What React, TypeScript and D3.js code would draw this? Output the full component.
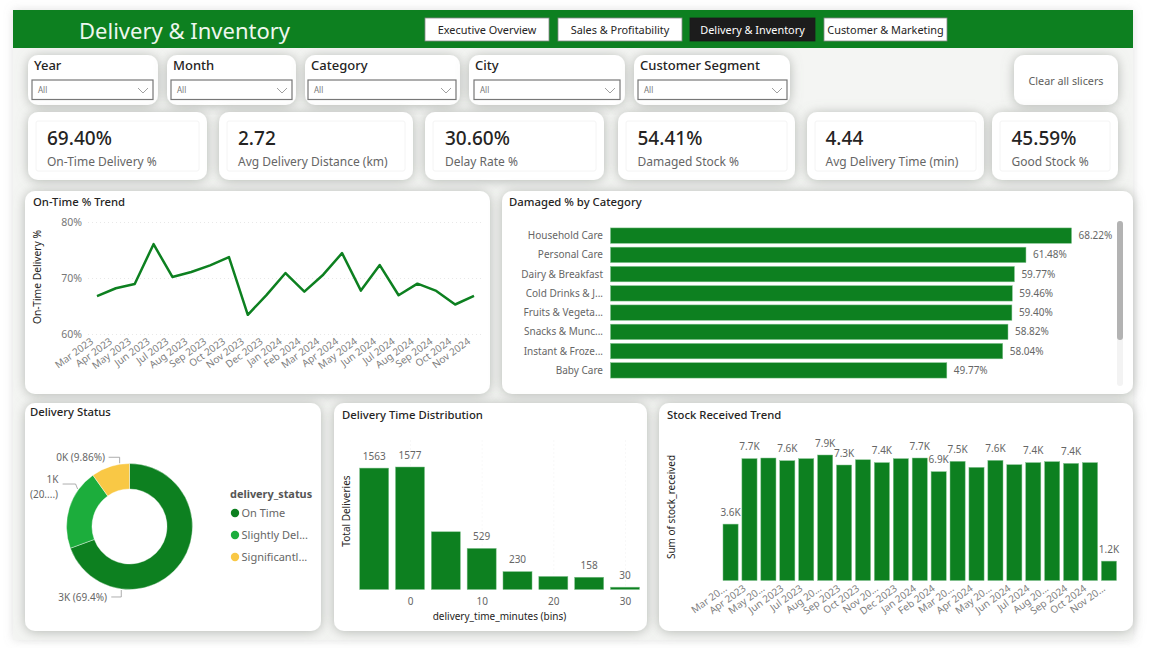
import React, { useEffect, useRef } from "react";
import * as d3 from "d3";

const months = ["Mar 2023", "Apr 2023", "May 2023", "Jun 2023", "Jul 2023", "Aug 2023", "Sep 2023", "Oct 2023", "Nov 2023", "Dec 2023", "Jan 2024", "Feb 2024", "Mar 2024", "Apr 2024", "May 2024", "Jun 2024", "Jul 2024", "Aug 2024", "Sep 2024", "Oct 2024", "Nov 2024"];
const onTimePct = [66.75, 68.17, 68.93, 76.04, 70.18, 71.07, 72.25, 73.73, 63.43, 66.98, 70.89, 67.57, 70.59, 74.44, 67.75, 72.31, 66.92, 68.99, 67.69, 65.27, 66.8];

const damagedCats = ["Household Care", "Personal Care", "Dairy & Breakfast", "Cold Drinks & J...", "Fruits & Vegeta...", "Snacks & Munc...", "Instant & Froze...", "Baby Care"];
const damagedPct = [68.22, 61.48, 59.77, 59.46, 59.4, 58.82, 58.04, 49.77];

const statusNames = ["On Time", "Slightly Del...", "Significantl..."];
const statusPct = [69.4, 20.74, 9.86];
const statusColors = ["#0d8020", "#1cad3c", "#f9c845"];

const binStarts = [-5, 0, 5, 10, 15, 20, 25, 30];
const binCounts = [1563, 1577, 743, 529, 230, 168, 158, 30];
const binLabels = ["1563", "1577", "", "529", "230", "", "158", "30"];

const stockMonths = ["Mar 20...", "Apr 2023", "May 20...", "Jun 2023", "Jul 2023", "Aug 20...", "Sep 2023", "Oct 2023", "Nov 20...", "Dec 2023", "Jan 2024", "Feb 2024", "Mar 20...", "Apr 2024", "May 20...", "Jun 2024", "Jul 2024", "Aug 20...", "Sep 2024", "Oct 2024", "Nov 20..."];
const stockValues = [3.55, 7.67, 7.71, 7.54, 7.67, 7.9, 7.27, 7.6, 7.42, 7.67, 7.71, 6.85, 7.5, 7.12, 7.56, 7.29, 7.42, 7.48, 7.37, 7.42, 1.22];
const stockLabels = ["3.6K", "7.7K", "", "7.6K", "", "7.9K", "7.3K", "", "7.4K", "", "7.7K", "6.9K", "7.5K", "", "7.6K", "", "7.4K", "", "7.4K", "", "1.2K"];

const navButtons = ["Executive Overview", "Sales & Profitability", "Delivery & Inventory", "Customer & Marketing"];
const slicerNames = ["Year", "Month", "Category", "City", "Customer Segment"];
const kpiValues = ["69.40%", "2.72", "30.60%", "54.41%", "4.44", "45.59%"];
const kpiNames = ["On-Time Delivery %", "Avg Delivery Distance (km)", "Delay Rate %", "Damaged Stock %", "Avg Delivery Time (min)", "Good Stock %"];

// layout boxes [x0, x1]
const navX = [[425, 549], [558, 682], [690, 815], [824, 947]];
const slicerX = [[28, 158], [167, 296], [305, 460], [469, 625], [634, 790]];
const dropX = [[32, 153], [171, 292], [308, 456], [474, 620], [638, 787]];
const kpiX = [[28, 207], [219, 413], [425, 604], [618, 795], [807, 984], [992, 1118]];
const kpiTextX = [47, 238, 445, 637.5, 825.5, 1011.5];

const FONT = "'Noto Sans', sans-serif";
const GREEN = "#0d8020";
const DARK = "#252423";
const GREY = "#666";

type Sel = d3.Selection<SVGGElement, unknown, null, undefined>;

const App = () => {
    const ref = useRef<SVGSVGElement | null>(null);

    useEffect(() => {
        const svg = d3.select(ref.current!);
        svg.selectAll("*").remove();
        document.body.style.margin = "0";

        const defs = svg.append("defs");
        const shadow = defs.append("filter").attr("id", "cardShadow").attr("x", "-15%").attr("y", "-20%").attr("width", "130%").attr("height", "140%");
        shadow.append("feDropShadow").attr("dx", 0).attr("dy", 1).attr("stdDeviation", 6).attr("flood-color", "#80857e").attr("flood-opacity", 0.55);
        const pageShadow = defs.append("filter").attr("id", "pageShadow").attr("x", "-3%").attr("y", "-3%").attr("width", "106%").attr("height", "106%");
        pageShadow.append("feDropShadow").attr("dx", 0).attr("dy", 0).attr("stdDeviation", 5).attr("flood-color", "#999").attr("flood-opacity", 0.3);

        const root: any = svg.append("g").attr("font-family", FONT);

        const text = (g: any, x: number, y: number, s: string, size: number, fill: string, anchor = "start", weight = 400) =>
            g.append("text").attr("x", x).attr("y", y).attr("dy", "0.35em").attr("font-size", size).attr("fill", fill)
                .attr("text-anchor", anchor).attr("font-weight", weight).text(s);

        const card = (x0: number, y0: number, x1: number, y1: number, r = 10) =>
            root.append("rect").attr("x", x0).attr("y", y0).attr("width", x1 - x0).attr("height", y1 - y0)
                .attr("rx", r).attr("fill", "#fff").attr("filter", "url(#cardShadow)");

        // page + header
        root.append("rect").attr("width", 1156).attr("height", 648).attr("fill", "#fff");
        root.append("rect").attr("x", 13).attr("y", 10).attr("width", 1120).attr("height", 630).attr("fill", "#f4f5f3").attr("filter", "url(#pageShadow)");
        root.append("rect").attr("x", 13).attr("y", 10).attr("width", 1120).attr("height", 38).attr("fill", GREEN);
        text(root, 79, 31, "Delivery & Inventory", 22, "#eef7ee");

        navButtons.forEach((name, i) => {
            const active = i === 2;
            root.append("rect").attr("x", navX[i][0]).attr("y", 18).attr("width", navX[i][1] - navX[i][0]).attr("height", 23)
                .attr("fill", active ? "#1c1c1c" : "#fff").attr("stroke", active ? "#1c1c1c" : "#888").attr("stroke-width", 0.8);
            text(root, (navX[i][0] + navX[i][1]) / 2, 30.5, name, 10.9, active ? "#fff" : DARK, "middle");
        });

        // slicers
        slicerNames.forEach((name, i) => {
            card(slicerX[i][0], 55, slicerX[i][1], 105);
            text(root, slicerX[i][0] + 6, 65, name, 13, DARK, "start", 500);
            root.append("rect").attr("x", dropX[i][0]).attr("y", 80).attr("width", dropX[i][1] - dropX[i][0]).attr("height", 19.5)
                .attr("fill", "#fff").attr("stroke", "#777").attr("stroke-width", 1.2);
            text(root, dropX[i][0] + 6, 90.5, "All", 8, "#777");
            const cx = dropX[i][1] - 10;
            root.append("path").attr("d", d3.line()([[cx - 5, 88], [cx, 93], [cx + 5, 88]])).attr("fill", "none").attr("stroke", "#888").attr("stroke-width", 0.8);
        });
        card(1014, 55, 1118, 105);
        text(root, 1066, 81, "Clear all slicers", 10.8, "#605e5c", "middle");

        // kpi cards
        kpiValues.forEach((v, i) => {
            const [x0, x1] = kpiX[i];
            card(x0, 112, x1, 180);
            root.append("rect").attr("x", x0 + 8).attr("y", 121).attr("width", x1 - x0 - 16).attr("height", 50).attr("rx", 2)
                .attr("fill", "#fff").attr("stroke", "#f1f1f1").attr("stroke-width", 0.8);
            text(root, kpiTextX[i], 138.5, v, 19, DARK, "start", 500);
            text(root, kpiTextX[i], 162, kpiNames[i], 12, "#666");
        });

        // chart cards
        card(25, 191, 490, 394);
        card(502, 191, 1133, 394);
        card(25, 403, 321, 631);
        card(334, 403, 647, 631);
        card(659, 403, 1133, 631);

        // ---- On-time trend
        text(root, 33, 202, "On-Time % Trend", 11.3, DARK, "start", 500);
        const lineX = d3.scalePoint<number>().domain(d3.range(months.length)).range([97, 474]);
        const lineY = d3.scaleLinear().domain([60, 80]).range([334, 222]);
        const lineAxis: Sel = root.append("g").attr("transform", "translate(88,0)");
        lineAxis.call(d3.axisLeft(lineY).tickValues([60, 70, 80]).tickSize(-394).tickPadding(6).tickFormat((d) => `${d}%`));
        lineAxis.select(".domain").remove();
        lineAxis.selectAll("line").attr("stroke", "#e8e8e8").attr("stroke-dasharray", "1,3");
        lineAxis.selectAll("text").attr("fill", "#777").attr("font-size", 10.5).attr("font-family", FONT);
        months.forEach((m, i) => {
            const x = lineX(i)! - 5, y = 340;
            root.append("text").attr("transform", `translate(${x},${y}) rotate(-36)`).attr("text-anchor", "end")
                .attr("font-size", 10).attr("fill", "#808080").attr("dy", "0.35em").text(m);
        });
        root.append("text").attr("transform", "translate(37,277) rotate(-90)").attr("text-anchor", "middle").attr("dy", "0.35em")
            .attr("font-size", 10.3).attr("fill", DARK).text("On-Time Delivery %");
        root.append("path").datum(onTimePct)
            .attr("d", d3.line<number>().x((_, i) => lineX(i)!).y((d) => lineY(d)))
            .attr("fill", "none").attr("stroke", GREEN).attr("stroke-width", 2.5).attr("stroke-linejoin", "round");

        // ---- Damaged by category
        text(root, 509, 202, "Damaged % by Category", 11.3, DARK, "start", 500);
        const damX = d3.scaleLinear().domain([0, 68.22]).range([610.5, 1071.5]);
        const damY = d3.scaleBand().domain(damagedCats).range([226, 380]).paddingInner(0.2).paddingOuter(0.1);
        damagedCats.forEach((c, i) => {
            const y = damY(c)!, h = damY.bandwidth();
            root.append("rect").attr("x", damX(0)).attr("y", y).attr("width", damX(damagedPct[i]) - damX(0)).attr("height", h)
                .attr("fill", GREEN).attr("stroke", "#7fc08b").attr("stroke-width", 0.5);
            text(root, 603, y + h / 2, c, 10, GREY, "end");
            text(root, damX(damagedPct[i]) + 7, y + h / 2, `${damagedPct[i].toFixed(2)}%`, 10, GREY);
        });
        root.append("rect").attr("x", 1117).attr("y", 221).attr("width", 6).attr("height", 165).attr("rx", 3).attr("fill", "#f3f3f3");
        root.append("rect").attr("x", 1117).attr("y", 221).attr("width", 6).attr("height", 119).attr("rx", 3).attr("fill", "#b3b3b3");

        // ---- Delivery status donut
        text(root, 30, 412, "Delivery Status", 11.3, DARK, "start", 500);
        const pie = d3.pie<number>().sort(null)(statusPct);
        const arc = d3.arc<d3.PieArcDatum<number>>().innerRadius(37.5).outerRadius(63);
        const ox = 129.5, oy = 526.5;
        const donut = root.append("g").attr("transform", `translate(${ox},${oy})`);
        pie.forEach((p, i) => {
            donut.append("path").attr("d", arc(p)).attr("fill", statusColors[i]).attr("stroke", "#fff").attr("stroke-width", 0.4);
        });
        // leader lines start on the slice edge, then elbow out to their label
        const edge = d3.arc<d3.PieArcDatum<number>>().innerRadius(64).outerRadius(64);
        const edgeAt = (p: d3.PieArcDatum<number>) => {
            const a = p.startAngle + (p.endAngle - p.startAngle) * 0.75;
            const c = edge.centroid({ ...p, startAngle: a, endAngle: a });
            return [ox + c[0], oy + c[1]];
        };
        const leader = (pts: [number, number][]) =>
            root.append("path").attr("d", d3.line()(pts)).attr("fill", "none").attr("stroke", "#999").attr("stroke-width", 0.8);
        const e0 = edgeAt(pie[0]), e1 = edgeAt(pie[1]), e2 = edgeAt(pie[2]);
        leader([[e2[0], e2[1]], [e2[0], e2[1] - 6], [e2[0] - 11, e2[1] - 6]]);
        leader([[e1[0], e1[1]], [e1[0] - 2, e1[1] - 5], [e1[0] - 15, e1[1] - 5]]);
        leader([[e0[0], e0[1]], [e0[0], e0[1] + 7], [e0[0] - 10, e0[1] + 7]]);
        text(root, 105, 457, `0K (${statusPct[2]}%)`, 10, GREY, "end");
        text(root, 52.5, 479, "1K", 10, GREY, "middle");
        text(root, 44, 494, "(20....)", 10, GREY, "middle");
        text(root, 107, 597, `3K (${statusPct[0]}%)`, 10, GREY, "end");
        text(root, 230, 494, "delivery_status", 10.9, "#555", "start", 700);
        const legendY = d3.scalePoint<string>().domain(statusNames).range([513, 557]);
        statusNames.forEach((s, i) => {
            root.append("circle").attr("cx", 235).attr("cy", legendY(s)!).attr("r", 4.2).attr("fill", statusColors[i]);
            text(root, 241.5, legendY(s)!, s, 11, GREY);
        });

        // ---- Delivery time distribution
        text(root, 342, 415, "Delivery Time Distribution", 11.3, DARK, "start", 500);
        const histX = d3.scaleLinear().domain([0, 30]).range([410, 625]);
        const histY = d3.scaleLinear().domain([0, 1577]).range([589.5, 467]);
        const binW = histX(5) - histX(0);
        const histAxis: Sel = root.append("g").attr("transform", "translate(0,589.5)");
        histAxis.call(d3.axisBottom(histX).tickValues([0, 10, 20, 30]).tickSize(-150).tickPadding(8));
        histAxis.select(".domain").remove();
        histAxis.selectAll("line").attr("stroke", "#f1f1f1").attr("stroke-dasharray", "1,3");
        histAxis.selectAll("text").attr("fill", GREY).attr("font-size", 10).attr("font-family", FONT);
        binStarts.forEach((b, i) => {
            const cx = histX(b);
            root.append("rect").attr("x", cx - binW * 0.405).attr("y", histY(binCounts[i])).attr("width", binW * 0.81).attr("height", histY(0) - histY(binCounts[i]))
                .attr("fill", GREEN).attr("stroke", "#7fc08b").attr("stroke-width", 0.5);
            if (binLabels[i]) text(root, cx, histY(binCounts[i]) - 12, binLabels[i], 10, GREY, "middle");
        });
        text(root, 499.5, 616, "delivery_time_minutes (bins)", 10, DARK, "middle");
        root.append("text").attr("transform", "translate(346,511) rotate(-90)").attr("text-anchor", "middle").attr("dy", "0.35em")
            .attr("font-size", 10).attr("fill", DARK).text("Total Deliveries");

        // ---- Stock received
        text(root, 667, 415, "Stock Received Trend", 11.3, DARK, "start", 500);
        const stockX = d3.scaleBand<number>().domain(d3.range(stockValues.length)).range([721.1, 1118.4]).paddingInner(0.2).paddingOuter(0.1);
        const stockY = d3.scaleLinear().domain([0, 7.9]).range([580.5, 455]);
        stockValues.forEach((v, i) => {
            const x = stockX(i)!, w = stockX.bandwidth();
            root.append("rect").attr("x", x).attr("y", stockY(v)).attr("width", w).attr("height", stockY(0) - stockY(v))
                .attr("fill", GREEN).attr("stroke", "#7fc08b").attr("stroke-width", 0.5);
            if (stockLabels[i]) text(root, x + w / 2, stockY(v) - 12, stockLabels[i], 10, GREY, "middle");
            root.append("text").attr("transform", `translate(${x + w / 2 - 5},587) rotate(-36)`).attr("text-anchor", "end")
                .attr("font-size", 10).attr("fill", "#808080").attr("dy", "0.35em").text(stockMonths[i]);
        });
        root.append("text").attr("transform", "translate(671,507) rotate(-90)").attr("text-anchor", "middle").attr("dy", "0.35em")
            .attr("font-size", 10).attr("fill", DARK).text("Sum of stock_received");
    }, []);

    return <svg ref={ref} width={1156} height={648} style={{ display: "block" }} />;
};

export default App;
